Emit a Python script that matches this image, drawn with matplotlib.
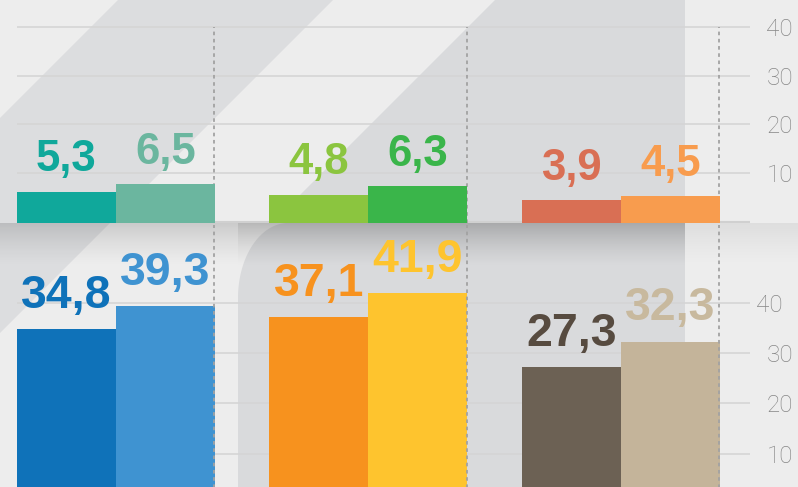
import numpy as np
import matplotlib.pyplot as plt
from matplotlib.patches import Polygon
from matplotlib.transforms import ScaledTranslation

# Values shown in the chart (two panels, three pairs each)
top_first = [5.3, 4.8, 3.9]
top_second = [6.5, 6.3, 4.5]
bottom_first = [34.8, 37.1, 27.3]
bottom_second = [39.3, 41.9, 32.3]

top_first_colors = ['#10a89b', '#8bc53f', '#d96f54']
top_second_colors = ['#6bb69f', '#3ab54a', '#f89c4e']
bottom_first_colors = ['#0f72b9', '#f7921e', '#6c6154']
bottom_second_colors = ['#3f93d1', '#fec42e', '#c4b49a']
bottom_first_label_colors = ['#0f72b9', '#f7921e', '#574b40']
bottom_second_label_colors = ['#3f93d1', '#fec42e', '#c8b99e']

tick_values = [10, 20, 30, 40]

W, H = 798, 487
fig = plt.figure(figsize=(W / 100, H / 100), dpi=100)
fig.patch.set_facecolor('#ededed')

# ---- decorative background, drawn in pixel space ----
bg = fig.add_axes([0, 0, 1, 1], zorder=-10)
bg.axis('off')
bg.add_patch(Polygon([(118, 0), (333, 0), (0, 333), (0, 118)],
                     closed=True, fc='#dcdddf', ec='none'))
bg.add_patch(Polygon([(495, 0), (685, 0), (685, 223), (272, 223)],
                     closed=True, fc='#d9dadc', ec='none'))
rx, ry = 50, 75
th = np.linspace(np.pi, np.pi / 2, 40)
arc = list(zip(238 + rx + rx * np.cos(th), 223 + ry - ry * np.sin(th)))
bg.add_patch(Polygon(arc + [(685, 223), (685, H), (238, H)],
                     closed=True, fc='#d9dadc', ec='none'))
# soft shadow under the upper panel
sh_h = 45
t = np.linspace(0, 1, sh_h)[:, None]
xs = np.arange(W)[None, :]
hf = np.where(xs < 238, 0.65, np.where(xs < 685, 1.0, 0.3))
alpha = 0.22 * (1 - t) ** 1.4 * hf
rgba = np.zeros((sh_h, W, 4))
rgba[..., 3] = alpha
bg.imshow(rgba, extent=(0, W, 223 + sh_h, 223), aspect='auto',
          interpolation='bilinear', zorder=2)
bg.set_xlim(0, W)
bg.set_ylim(H, 0)

# ---- chart geometry ----
groups = np.arange(3)
bw = 0.392
xlim = (-0.392, 2.511)
grid_c = '#d5d5d5'
tick_c = '#868686'
dash_c = '#a2a2a2'
left = 17 / W
width = 733 / W


def style_ticks(ax, pad_pt):
    ax.yaxis.tick_right()
    ax.set_yticks(tick_values)
    ax.tick_params(axis='y', length=0, pad=pad_pt, labelsize=17.5,
                   labelcolor=tick_c)
    for lbl in ax.get_yticklabels():
        lbl.set_ha('right')
        lbl.set_family('Roboto')
        lbl.set_fontweight('light')
    ax.grid(axis='y', color=grid_c, lw=1.2)
    ax.set_xticks([])
    for s in ax.spines.values():
        s.set_visible(False)


def labels(ax, bars, colors, size):
    txt = ax.bar_label(bars, labels=[f'{v:.1f}'.replace('.', ',') for v in bars.datavalues],
                       padding=8, fontsize=size, fontweight='bold',
                       family='Liberation Sans')
    for tx, c in zip(txt, colors):
        tx.set_color(c)


# upper panel
ax_t = fig.add_axes([left, (H - 223) / H, width, 223 / H])
ax_tg = ax_t.twinx()
ax_tg.set_zorder(ax_t.get_zorder() - 1)
ax_t.patch.set_visible(False)
ax_tg.patch.set_visible(False)
ax_tg.set_ylim(-0.27, 45.55)
style_ticks(ax_tg, 31)
ax_tg.axhline(0, color='#d0d0d0', lw=1.5)
ax_t.set_ylim(0, 37.6)
ax_t.set_yticks([])
ax_t.set_xticks([])
for s in ax_t.spines.values():
    s.set_visible(False)
ax_t.set_xlim(*xlim)
ax_tg.set_xlim(*xlim)
b1 = ax_t.bar(groups - bw / 2, top_first, bw, color=top_first_colors, zorder=2)
b2 = ax_t.bar(groups + bw / 2, top_second, bw, color=top_second_colors, zorder=2)
labels(ax_t, b1, top_first_colors, 31.5)
labels(ax_t, b2, top_second_colors, 31.5)
ax_tg.vlines(groups + 0.39, -0.27, 40, colors=dash_c, lw=1.3,
             linestyles=(0, (2, 2)), zorder=3)

# lower panel
ax_b = fig.add_axes([left, 0, width, (H - 225) / H])
ax_b.patch.set_visible(False)
ax_b.set_ylim(3.38, 55.47)
ax_b.set_xlim(*xlim)
style_ticks(ax_b, 31)
ax_b.set_axisbelow(True)
c1 = ax_b.bar(groups - bw / 2, bottom_first, bw, color=bottom_first_colors, zorder=2)
c2 = ax_b.bar(groups + bw / 2, bottom_second, bw, color=bottom_second_colors, zorder=2)
labels(ax_b, c1, bottom_first_label_colors, 33.5)
labels(ax_b, c2, bottom_second_label_colors, 33.5)
ax_b.vlines(groups + 0.39, 0, 60, colors=dash_c, lw=1.3,
            linestyles=(0, (2, 2)), zorder=3)
ax_b.set_ylim(3.38, 55.47)
# the top label of the lower scale sits a little further left
top_lbl = ax_b.get_yticklabels()[-1]
top_lbl.set_transform(top_lbl.get_transform() +
                      ScaledTranslation(-0.1, 0, fig.dpi_scale_trans))

fig.savefig('out.png', dpi=100)
